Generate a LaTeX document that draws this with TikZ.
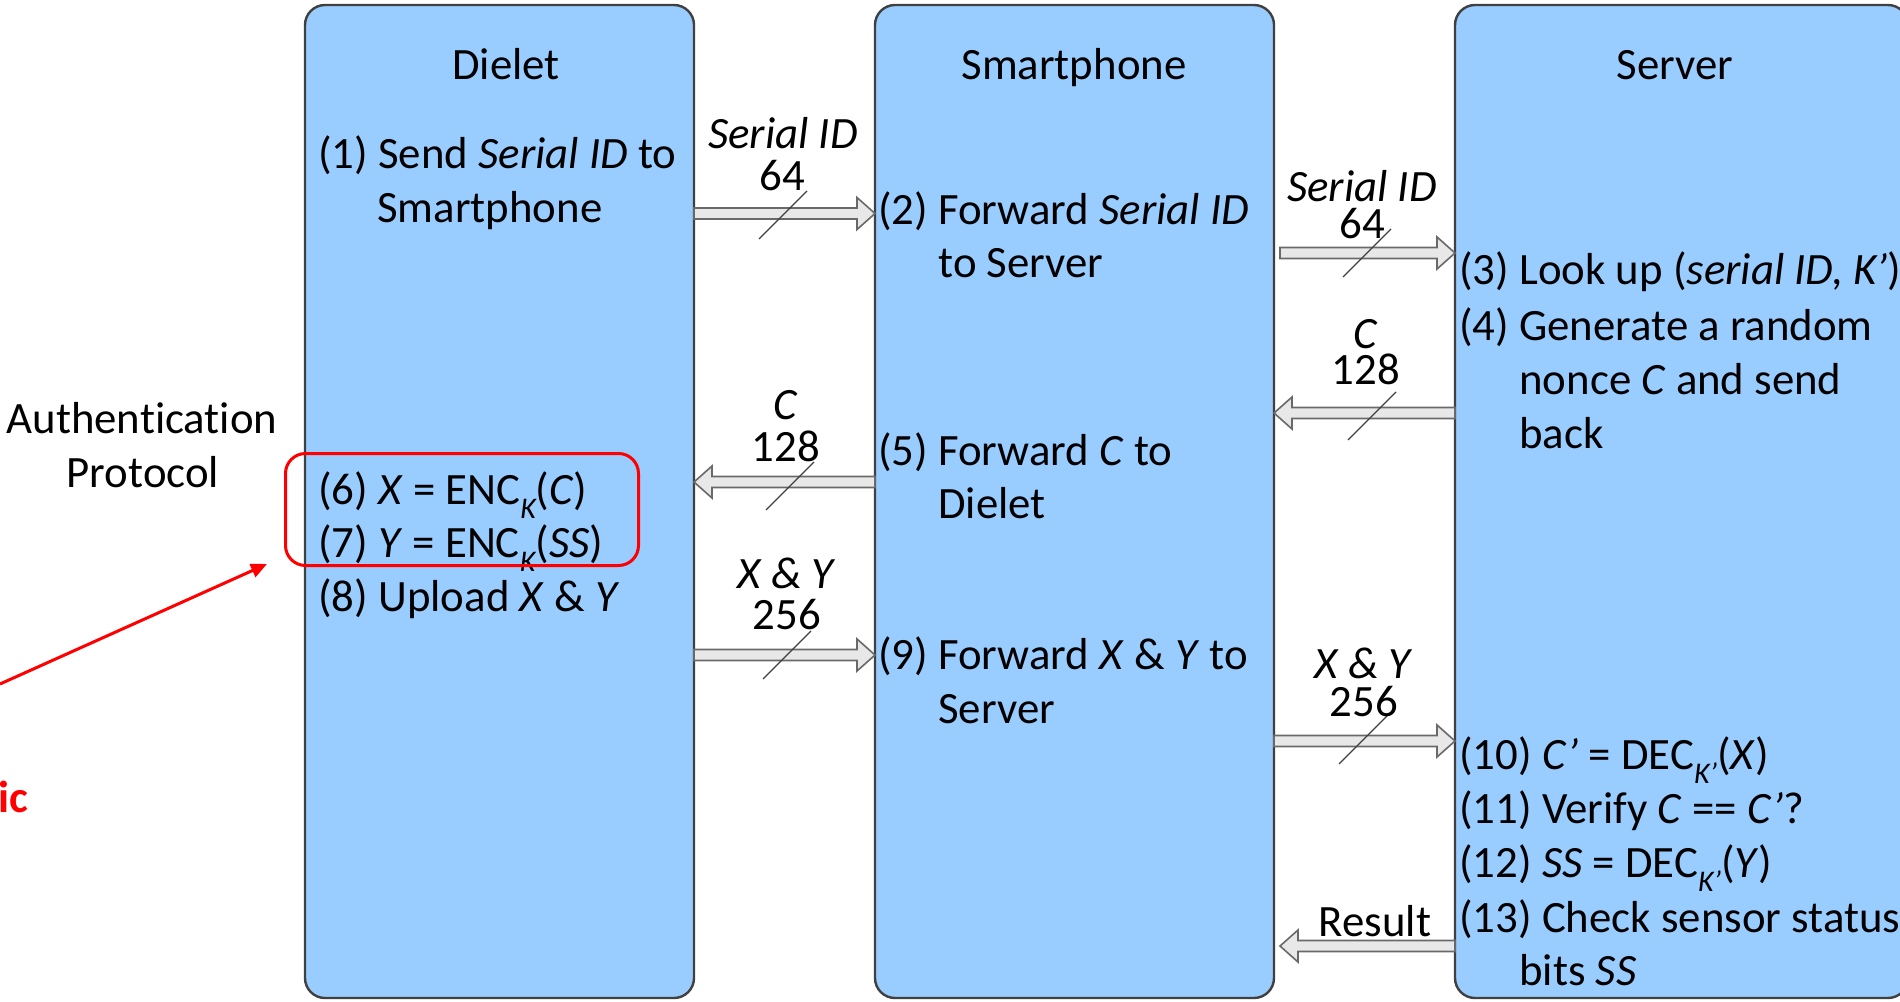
\documentclass[tikz,border=0pt]{standalone}
\usepackage{fontspec}
\setmainfont[Ligatures=NoCommon]{Carlito}
\usetikzlibrary{calc,arrows.meta}

\definecolor{boxblue}{RGB}{153,204,255}
\definecolor{boxline}{RGB}{64,64,64}
\definecolor{pipefill}{RGB}{232,232,232}
\definecolor{pipeline}{RGB}{105,105,105}
\definecolor{alertred}{RGB}{255,0,0}

% italic subscript (key names)
\newcommand\subk[1]{\raisebox{-0.32em}{\fontsize{15}{15}\selectfont\itshape #1}}

% hollow block arrow from #1 (tail) to #2 (tip); #3 = signed head length
\newcommand\pipe[3]{%
  \draw[pipe] ($(#1)+(0,2.75pt)$) -- ($(#2)+(#3,2.75pt)$) -- ($(#2)+(#3,8pt)$)
    -- (#2) -- ($(#2)+(#3,-8pt)$) -- ($(#2)+(#3,-2.75pt)$) -- ($(#1)+(0,-2.75pt)$) -- cycle;}

% bus-width slash across a message arrow
\newcommand\busmark[1]{%
  \draw[slash] ($(#1)+(-12pt,-12pt)$) -- ($(#1)+(12pt,12pt)$);}

\tikzset{
  lane/.style={draw=boxline, fill=boxblue, line width=1.2pt, rounded corners=10pt,
    inner sep=0, outer sep=0, anchor=north west, minimum height=496.5pt},
  txt/.style={anchor=base west, inner sep=0, font=\fontsize{22.4}{26}\selectfont},
  lbl/.style={anchor=base, inner sep=0, font=\fontsize{22.4}{26}\selectfont},
  pipe/.style={draw=pipeline, fill=pipefill, line width=0.8pt, line join=miter},
  slash/.style={draw=boxline, line width=0.6pt},
  alert/.style={draw=alertred, line width=1.5pt},
}

\begin{document}
\begin{tikzpicture}[x=0.5pt, y=-0.5pt]
\useasboundingbox (0,0) rectangle (1900,1001);
\fill[white] (0,0) rectangle (1900,1001);

% the three parties
\node[lane, minimum width=194.5pt] (dielet) at (305,5) {};
\node[lane, minimum width=199.5pt] (phone) at (875,5) {};
\node[lane, minimum width=226.5pt] (server) at (1455,5) {};

\node[lbl] (tdie) at (506,79) {Dielet};
\node[lbl] (tpho) at (1074,79) {Smartphone};
\node[lbl] (tser) at (1675,79) {Server};

% protocol caption on the left
\node[lbl] (cap1) at (142,433) {Authentication};
\node[lbl] (cap2) at (143,487) {Protocol};
\node[lbl, anchor=base east, text=alertred, font=\fontsize{22.4}{26}\selectfont\bfseries] (cut) at (29,812) {ic};

% Dielet steps
\node[txt] (s1) at (318,168) {(1) Send \textit{Serial ID} to};
\node[txt] (s1b) at (377,222) {Smartphone};
\node[txt] (s6) at (318,504) {(6) \textit{X} = ENC\subk{K}(\textit{C})};
\node[txt] (s7) at (318,557) {(7) \textit{Y} = ENC\subk{K}(\textit{SS})};
\node[txt] (s8) at (318,611) {(8) Upload \textit{X} \& \textit{Y}};

% Smartphone steps
\node[txt] (s2) at (878,224) {(2) Forward \textit{Serial ID}};
\node[txt] (s2b) at (938,277) {to Server};
\node[txt] (s5) at (878,465) {(5) Forward \textit{C} to};
\node[txt] (s5b) at (938,518) {Dielet};
\node[txt] (s9) at (878,669) {(9) Forward \textit{X} \& \textit{Y} to};
\node[txt] (s9b) at (938,723) {Server};

% Server steps
\node[txt] (s3) at (1459,284) {(3) Look up (\textit{serial ID, K’})};
\node[txt] (s4) at (1459,340) {(4) Generate a random};
\node[txt] (s4b) at (1519,394) {nonce \textit{C} and send};
\node[txt] (s4c) at (1519,448) {back};
\node[txt] (s10) at (1459,769) {(10) \textit{C’} = DEC\subk{K’}(\textit{X})};
\node[txt] (s11) at (1459,823) {(11) Verify \textit{C} == \textit{C’}?};
\node[txt] (s12) at (1459,877) {(12) \textit{SS} = DEC\subk{K’}(\textit{Y})};
\node[txt] (s13) at (1459,932) {(13) Check sensor status};
\node[txt] (s13b) at (1519,985) {bits \textit{SS}};

% highlighted encryption steps
\node[alert, rounded corners=10pt, inner sep=0, anchor=north west,
  minimum width=176.5pt, minimum height=56pt] (hl) at (284,452) {};
\coordinate (rs) at (0,684);
\coordinate (rt) at (267,564);
\draw[alert, -{Triangle[length=8pt,width=7pt]}] (rs) -- (rt);

% message end points
\coordinate (a1s) at (dielet.east |- 0,213.5);
\coordinate (a1e) at (phone.west |- 0,213.5);
\coordinate (a2s) at ($(phone.east |- 0,253)+(3pt,0)$);
\coordinate (a2e) at (server.west |- 0,253);
\coordinate (a3s) at (server.west |- 0,413);
\coordinate (a3e) at (phone.east |- 0,413);
\coordinate (a4s) at (phone.west |- 0,482);
\coordinate (a4e) at (dielet.east |- 0,482);
\coordinate (a5s) at (dielet.east |- 0,655);
\coordinate (a5e) at (phone.west |- 0,655);
\coordinate (a6s) at (phone.east |- 0,741);
\coordinate (a6e) at (server.west |- 0,741);
\coordinate (a7s) at (server.west |- 0,946);
\coordinate (a7e) at ($(phone.east |- 0,946)+(3pt,0)$);

% messages
\pipe{a1s}{a1e}{-9pt}
\pipe{a2s}{a2e}{-9pt}
\pipe{a3s}{a3e}{9pt}
\pipe{a4s}{a4e}{9pt}
\pipe{a5s}{a5e}{-9pt}
\pipe{a6s}{a6e}{-9pt}
\pipe{a7s}{a7e}{9pt}

% bus widths
\coordinate (m1) at (783,215);
\coordinate (m2) at (1367,253);
\coordinate (m3) at (1372,416);
\coordinate (m4) at (790,486);
\coordinate (m5) at (787,655);
\coordinate (m6) at (1363,740);
\busmark{m1}
\busmark{m2}
\busmark{m3}
\busmark{m4}
\busmark{m5}
\busmark{m6}

% message labels
\node[lbl] (l1a) at (783,148) {\textit{Serial ID}};
\node[lbl] (l1b) at (782,190) {64};
\node[lbl] (l2a) at (1362,201) {\textit{Serial ID}};
\node[lbl] (l2b) at (1362,238) {64};
\node[lbl] (l3a) at (1366,348) {\textit{C}};
\node[lbl] (l3b) at (1366,384) {128};
\node[lbl] (l4a) at (786,419) {\textit{C}};
\node[lbl] (l4b) at (786,461) {128};
\node[lbl] (l5a) at (787,588) {\textit{X \& Y}};
\node[lbl] (l5b) at (787,629) {256};
\node[lbl] (l6a) at (1364,678) {\textit{X \& Y}};
\node[lbl] (l6b) at (1364,716) {256};
\node[lbl] (l7) at (1375,936) {Result};
\end{tikzpicture}
\end{document}
